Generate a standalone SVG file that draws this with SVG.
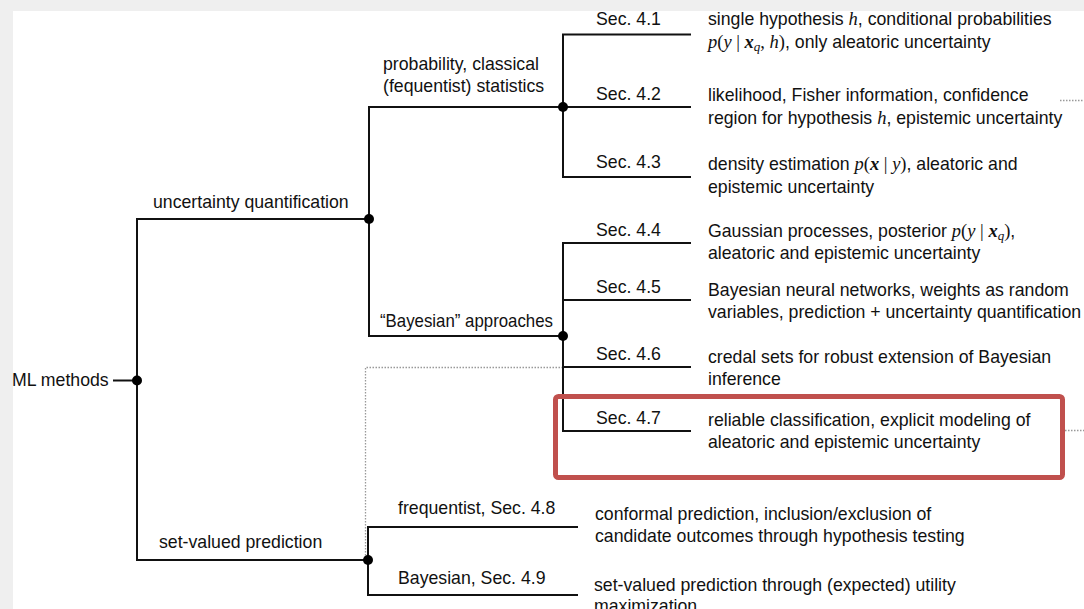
<svg xmlns="http://www.w3.org/2000/svg" width="1084" height="609" viewBox="0 0 1084 609">
<style>
text{font-family:"Liberation Sans","DejaVu Sans",sans-serif;font-size:17.7px;fill:#111}
.m{font-family:"Liberation Serif","DejaVu Serif",serif;font-style:italic;font-size:18.5px}
.mu{font-family:"Liberation Serif","DejaVu Serif",serif;font-size:18.5px}
.mb{font-family:"Liberation Serif","DejaVu Serif",serif;font-style:italic;font-weight:bold;font-size:18.5px}
.sub{font-family:"Liberation Serif","DejaVu Serif",serif;font-style:italic;font-size:13px}
.ln{stroke:#111;stroke-width:2;fill:none}
.dot{fill:#000}
.dt{stroke:#999;stroke-width:1.3;stroke-dasharray:1.5 1.5;fill:none}
</style>
<rect x="0" y="0" width="1084" height="609" fill="#efefef"/>
<rect x="13" y="11" width="1071" height="598" fill="#ffffff"/>
<g id="connectors">
<path class="dt" d="M563 367.5H365.5V560"/>
<path class="dt" d="M1060 100.5H1084"/>
<path class="dt" d="M1065 430.5H1084"/>
<path class="ln" d="M113 380.5H137"/>
<path class="ln" d="M369 219H137V560H369"/>
<path class="ln" d="M563 107H369V336H563"/>
<path class="ln" d="M691 34.5H563V177H691"/>
<path class="ln" d="M563 107H691"/>
<path class="ln" d="M691 243H563V431H691"/>
<path class="ln" d="M563 300H691"/>
<path class="ln" d="M563 367H691"/>
<path class="ln" d="M578 527H368V595H578"/>
<circle class="dot" cx="137" cy="380.5" r="5"/>
<circle class="dot" cx="369" cy="219" r="5"/>
<circle class="dot" cx="368" cy="560" r="5"/>
<circle class="dot" cx="563" cy="107" r="5"/>
<circle class="dot" cx="563" cy="336" r="5"/>
</g>
<g id="root"><text x="12" y="386">ML methods</text></g>
<g id="uq"><text x="153" y="208">uncertainty quantification</text></g>
<g id="svp"><text x="159" y="548">set-valued prediction</text></g>
<g id="prob"><text x="383" y="70">probability, classical</text><text x="383" y="92">(fequentist) statistics</text></g>
<g id="bayes"><text x="380" y="327" textLength="173" lengthAdjust="spacingAndGlyphs">“Bayesian” approaches</text></g>
<g id="freq"><text x="398" y="514">frequentist, Sec. 4.8</text></g>
<g id="bayes2"><text x="398" y="584">Bayesian, Sec. 4.9</text></g>
<g id="s41"><text x="596" y="25">Sec. 4.1</text>
<text x="708" y="25">single hypothesis <tspan class="m">h</tspan>, conditional probabilities</text>
<text x="708" y="48"><tspan class="m">p</tspan><tspan class="mu">(</tspan><tspan class="m">y</tspan><tspan class="mu"> | </tspan><tspan class="mb">x</tspan><tspan class="sub" dy="3">q</tspan><tspan class="mu" dy="-3">, </tspan><tspan class="m">h</tspan><tspan class="mu">)</tspan>, only aleatoric uncertainty</text></g>
<g id="s42"><text x="596" y="100">Sec. 4.2</text>
<text x="708" y="101">likelihood, Fisher information, confidence</text>
<text x="708" y="124">region for hypothesis <tspan class="m">h</tspan>, epistemic uncertainty</text></g>
<g id="s43"><text x="596" y="168">Sec. 4.3</text>
<text x="708" y="170">density estimation <tspan class="m">p</tspan><tspan class="mu">(</tspan><tspan class="mb">x</tspan><tspan class="mu"> | </tspan><tspan class="m">y</tspan><tspan class="mu">)</tspan>, aleatoric and</text>
<text x="708" y="193">epistemic uncertainty</text></g>
<g id="s44"><text x="596" y="236">Sec. 4.4</text>
<text x="708" y="237">Gaussian processes, posterior <tspan class="m">p</tspan><tspan class="mu">(</tspan><tspan class="m">y</tspan><tspan class="mu"> | </tspan><tspan class="mb">x</tspan><tspan class="sub" dy="3">q</tspan><tspan class="mu" dy="-3">)</tspan>,</text>
<text x="708" y="259">aleatoric and epistemic uncertainty</text></g>
<g id="s45"><text x="596" y="293">Sec. 4.5</text>
<text x="708" y="296">Bayesian neural networks, weights as random</text>
<text x="708" y="318">variables, prediction + uncertainty quantification</text></g>
<g id="s46"><text x="596" y="360">Sec. 4.6</text>
<text x="708" y="363">credal sets for robust extension of Bayesian</text>
<text x="708" y="385">inference</text></g>
<g id="s47"><rect x="555.5" y="396.5" width="507" height="81" rx="3" fill="none" stroke="#c0504d" stroke-width="5"/>
<text x="596" y="424">Sec. 4.7</text>
<text x="708" y="426">reliable classification, explicit modeling of</text>
<text x="708" y="448">aleatoric and epistemic uncertainty</text></g>
<g id="s48"><text x="595" y="520">conformal prediction, inclusion/exclusion of</text>
<text x="595" y="542">candidate outcomes through hypothesis testing</text></g>
<g id="s49"><text x="594" y="591">set-valued prediction through (expected) utility</text>
<text x="594" y="612">maximization</text></g>
</svg>
